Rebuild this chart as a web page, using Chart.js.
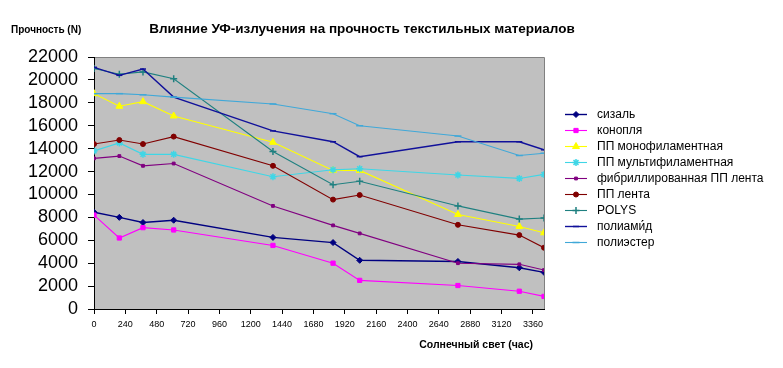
<!DOCTYPE html>
<html><head><meta charset="utf-8">
<script src="https://cdn.jsdelivr.net/npm/chart.js@4/dist/chart.umd.min.js"></script>
<style>html,body{margin:0;padding:0;background:#fff}canvas{display:block}</style>
</head><body>
<canvas id="c" width="783" height="368"></canvas>
<script>
// ---- data ----
const hours = [0, 194, 375, 610, 1370, 1830, 2034, 2786, 3256, 3445];
const seriesNames = ["сизаль", "конопля", "ПП монофиламентная", "ПП мультифиламентная",
  "фибриллированная ПП лента", "ПП лента", "POLYS", "полиами́д", "полиэстер"];
const sisal     = [8450, 8000, 7550, 7750, 6250, 5800, 4250, 4150, 3600, 3200];
const hemp      = [8200, 6200, 7100, 6900, 5550, 4000, 2500, 2050, 1550, 1100];
const ppMono    = [18800, 17700, 18100, 16850, 14550, 12100, 12100, 8250, 7200, 6650];
const ppMulti   = [13800, 14500, 13500, 13500, 11550, 12150, 12250, 11700, 11400, 11750];
const ppFibr    = [13150, 13350, 12500, 12700, 9000, 7300, 6600, 4000, 3900, 3400];
const ppTape    = [14400, 14750, 14400, 15050, 12500, 9550, 9950, 7350, 6450, 5350];
const polys     = [21000, 20500, 20700, 20100, 13750, 10850, 11150, 9000, 7850, 7950];
const polyamide = [21100, 20400, 20950, 18500, 15550, 14600, 13300, 14600, 14600, 13900];
const polyester = [18800, 18800, 18700, 18500, 17900, 17050, 16000, 15100, 13400, 13600];
const titleText = "Влияние УФ-излучения на прочность текстильных материалов";
const yTitleText = "Прочность (N)";
const xTitleText = "Солнечный свет (час)";

// ---- styles ----
const allValues = [sisal, hemp, ppMono, ppMulti, ppFibr, ppTape, polys, polyamide, polyester];
const colors = ["#000080", "#FF00FF", "#FFFF00", "#3FD6E6", "#800080", "#800000", "#1F8080", "#10109A", "#40A8D8"];
const pstyles = ["rectRot", "rect", "triangle", "star", "rect", "circle", "cross", "line", "line"];
const pradius = [3, 3, 4, 3.5, 2, 2.5, 3.5, 3, 3.5];
const FONT = "'Liberation Sans', Arial, sans-serif";

const datasets = allValues.map((vals, i) => ({
  label: seriesNames[i],
  data: hours.map((h, j) => ({x: h, y: vals[j]})),
  borderColor: colors[i],
  backgroundColor: colors[i],
  borderWidth: (i === 0 || i === 7) ? 1.4 : 1.1,
  pointStyle: pstyles[i],
  pointRadius: pradius[i],
  pointBorderWidth: (pstyles[i] === 'star' || pstyles[i] === 'cross' || pstyles[i] === 'line') ? 1.5 : 1,
  pointBorderColor: colors[i],
  pointBackgroundColor: colors[i],
  tension: 0,
  fill: false,
  order: 9 - i
}));

const decor = {
  id: 'decor',
  beforeDraw(chart) {
    const {ctx, chartArea: a} = chart;
    ctx.save();
    ctx.fillStyle = '#fff';
    ctx.fillRect(0, 0, chart.width, chart.height);
    ctx.fillStyle = '#C0C0C0';
    ctx.fillRect(a.left, a.top, a.right - a.left, a.bottom - a.top);
    ctx.strokeStyle = '#808080';
    ctx.lineWidth = 1;
    ctx.beginPath();
    ctx.moveTo(a.left, a.top + 0.5); ctx.lineTo(a.right + 0.5, a.top + 0.5);
    ctx.lineTo(a.right + 0.5, a.bottom);
    ctx.stroke();
    ctx.restore();
  },
  afterDraw(chart) {
    const ctx = chart.ctx;
    ctx.save();
    ctx.fillStyle = '#000';
    ctx.textBaseline = 'middle';
    ctx.font = "bold 13.5px " + FONT;
    ctx.textAlign = 'center';
    ctx.fillText(titleText, 362, 29);
    ctx.font = "bold 10px " + FONT;
    ctx.textAlign = 'left';
    ctx.fillText(yTitleText, 11, 30);
    ctx.font = "bold 10.5px " + FONT;
    ctx.textAlign = 'right';
    ctx.fillText(xTitleText, 533, 345);
    // legend
    const lx0 = 565, lx1 = 587, tx = 597, ly0 = 114, dy = 16.05;
    ctx.font = "12px " + FONT;
    ctx.textAlign = 'left';
    datasets.forEach((d, i) => {
      const y = Math.round(ly0 + i * dy) + 0.5;
      ctx.strokeStyle = d.borderColor;
      ctx.lineWidth = d.borderWidth;
      ctx.beginPath(); ctx.moveTo(lx0, y); ctx.lineTo(lx1, y); ctx.stroke();
      ctx.fillStyle = d.pointBackgroundColor;
      ctx.strokeStyle = d.pointBorderColor;
      ctx.lineWidth = d.pointBorderWidth;
      Chart.helpers.drawPoint(ctx, {pointStyle: d.pointStyle, radius: d.pointRadius, rotation: 0, borderWidth: d.pointBorderWidth}, (lx0 + lx1) / 2, y);
      ctx.fillStyle = '#000';
      ctx.fillText(d.label, tx, y);
    });
    ctx.restore();
  }
};

new Chart(document.getElementById('c'), {
  type: 'line',
  data: {datasets},
  options: {
    responsive: false,
    animation: false,
    devicePixelRatio: 1,
    layout: {padding: {left: 0, right: 239, top: 57, bottom: 0}},
    plugins: {legend: {display: false}, title: {display: false}, tooltip: {enabled: false}},
    scales: {
      x: {
        type: 'linear', min: 0, max: 3445,
        border: {display: true, color: '#000', width: 1},
        grid: {drawOnChartArea: false, drawTicks: true, tickLength: 5, color: '#000'},
        ticks: {stepSize: 240, includeBounds: false, autoSkip: false, maxRotation: 0, padding: 5,
                color: '#000', font: {family: FONT, size: 9}, callback: v => String(v)},
        afterFit(s) { s.height = 59; }
      },
      y: {
        min: 0, max: 22000,
        border: {display: true, color: '#000', width: 1},
        grid: {drawOnChartArea: false, drawTicks: true, tickLength: 6, color: '#000'},
        ticks: {stepSize: 2000, autoSkip: false, padding: 10, color: '#000',
                font: {family: FONT, size: 18}, callback: v => String(v)},
        afterFit(s) { s.width = 94; }
      }
    }
  },
  plugins: [decor]
});
</script>
</body></html>
